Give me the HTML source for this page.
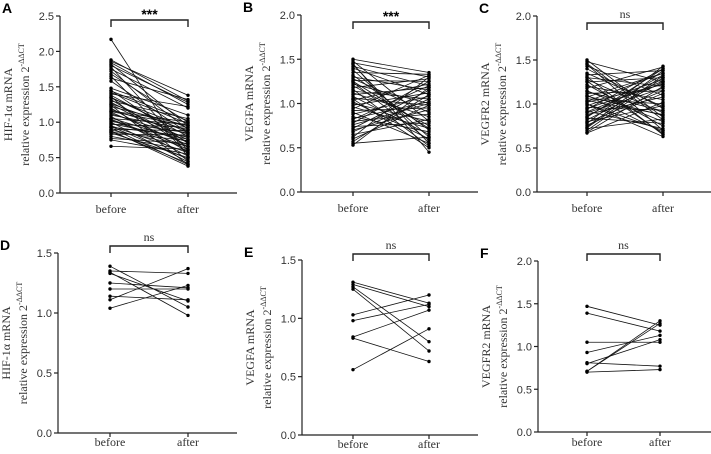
<!DOCTYPE html>
<html><head><meta charset="utf-8">
<style>
body{margin:0;background:#fff;}
svg{display:block;}
.tick{font-family:"Liberation Sans",sans-serif;font-size:11px;fill:#333;}
.ttl{font-family:"Liberation Serif",serif;font-size:12px;fill:#333;}
.xl{font-family:"Liberation Serif",serif;font-size:12px;fill:#333;}
.let{font-family:"Liberation Sans",sans-serif;font-size:14px;font-weight:bold;fill:#000;}
</style></head><body>
<svg id="fig" width="711" height="454" viewBox="0 0 711 454"></svg>
<script>
const categories=["before","after"];
const aBefore=[2.17,1.88,1.86,1.84,1.82,1.80,1.78,1.75,1.72,1.68,1.65,1.62,1.58,1.48,1.45,1.42,1.40,1.38,1.36,1.34,1.32,1.30,1.28,1.26,1.24,1.22,1.20,1.18,1.16,1.14,1.12,1.10,1.08,1.06,1.05,1.03,1.01,1.00,0.98,0.97,0.95,0.93,0.92,0.90,0.89,0.88,0.86,0.85,0.83,0.80,0.77,0.75,0.66,1.15,1.25,1.35,0.94,1.04,1.44,0.87];
const aAfter=[0.50,1.30,1.38,1.25,0.95,1.28,0.60,1.20,0.90,1.00,0.55,1.32,0.85,1.10,0.70,0.98,1.22,0.80,0.45,0.92,0.65,1.05,0.75,0.88,0.40,0.95,0.58,0.83,1.00,0.68,0.78,0.90,0.52,0.72,0.97,0.62,0.85,0.44,0.76,0.93,0.57,0.80,0.40,0.88,0.66,0.38,0.74,0.50,0.82,0.60,0.70,0.55,0.62,0.95,0.72,0.85,0.48,0.65,1.02,0.42];
const bBefore=[1.50,1.48,1.46,1.44,1.42,1.40,1.38,1.35,1.32,1.30,1.28,1.26,1.24,1.22,1.20,1.18,1.16,1.14,1.12,1.10,1.08,1.06,1.04,1.02,1.00,0.98,0.96,0.94,0.92,0.90,0.88,0.85,0.82,0.80,0.78,0.76,0.74,0.72,0.70,0.68,0.65,0.62,0.60,0.57,0.55,0.53,1.45,1.25,1.05,0.83];
const bAfter=[1.35,0.80,1.30,0.55,1.20,1.10,0.62,1.33,0.70,1.15,0.90,1.25,0.58,1.00,0.75,1.28,0.52,1.05,0.85,1.18,0.65,0.98,1.22,0.60,0.80,1.12,0.72,1.32,0.95,0.55,1.08,0.68,1.20,0.88,1.25,1.00,0.78,1.15,0.93,1.05,0.82,1.30,0.98,1.10,0.62,1.18,0.45,0.72,0.50,1.02];
const cBefore=[1.50,1.48,1.45,1.43,1.40,1.33,1.31,1.30,1.28,1.25,1.22,1.20,1.18,1.15,1.12,1.10,1.08,1.06,1.04,1.02,1.00,0.98,0.96,0.94,0.92,0.90,0.88,0.86,0.84,0.82,0.80,0.78,0.76,0.74,0.72,0.70,0.68,0.67,1.26,1.14,1.03,0.95,0.85,0.79,1.46,1.35,1.00,0.91,1.09,0.73];
const cAfter=[0.85,1.25,0.70,1.10,0.95,1.38,0.65,1.20,0.90,1.30,0.75,1.05,1.42,0.80,1.15,0.68,1.35,1.00,0.88,1.22,0.63,1.28,0.93,1.40,0.72,1.18,1.08,1.33,0.78,1.25,0.98,1.43,1.12,1.38,0.83,1.30,1.20,1.02,0.66,0.92,1.35,1.23,1.40,1.15,0.82,0.97,0.70,1.26,0.87,1.32];
const dBefore=[1.39,1.35,1.34,1.33,1.25,1.20,1.14,1.11,1.04];
const dAfter=[1.05,1.33,0.98,1.10,1.21,1.20,1.11,1.37,1.23];
const eBefore=[1.31,1.29,1.27,1.25,1.03,0.98,0.84,0.83,0.56];
const eAfter=[1.13,1.10,0.80,0.72,1.20,1.12,1.07,0.63,0.91];
const fBefore=[1.47,1.39,1.05,0.93,0.81,0.80,0.71,0.71,0.70];
const fAfter=[1.25,1.18,1.05,1.13,0.77,1.08,1.30,1.27,0.73];
const ticksA=["0.0","0.5","1.0","1.5","2.0","2.5"];
const ticks2=["0.0","0.5","1.0","1.5","2.0"];
const ticks15=["0.0","0.5","1.0","1.5"];
const sigA="***",sigB="***",sigC="ns",sigD="ns",sigE="ns",sigF="ns";

const NS="http://www.w3.org/2000/svg";
const svg=document.getElementById('fig');
function mk(tag,attrs,parent){const e=document.createElementNS(NS,tag);for(const k in attrs)e.setAttribute(k,attrs[k]);(parent||svg).appendChild(e);return e;}

const panels=[
 {id:'a',L:'A',gene:'HIF-1α mRNA',ax:60,top:16,bot:193,bx:111,fx:188,end:237,br:20,lo:20,ticks:ticksA,before:aBefore,after:aAfter,sig:sigA},
 {id:'b',L:'B',gene:'VEGFA mRNA',ax:301,top:15,bot:192,bx:353,fx:429,end:478,br:22,lo:20,ticks:ticks2,before:bBefore,after:bAfter,sig:sigB},
 {id:'c',L:'C',gene:'VEGFR2 mRNA',ax:537,top:16,bot:192,bx:587,fx:663,end:711,br:23,lo:20,ticks:ticks2,before:cBefore,after:cAfter,sig:sigC},
 {id:'d',L:'D',gene:'HIF-1α mRNA',ax:58,top:253,bot:433,bx:110,fx:188,end:237,br:246,lo:13,ticks:ticks15,before:dBefore,after:dAfter,sig:sigD},
 {id:'e',L:'E',gene:'VEGFA mRNA',ax:302,top:260,bot:435,bx:353,fx:429,end:478,br:254,lo:13,ticks:ticks15,before:eBefore,after:eAfter,sig:sigE},
 {id:'f',L:'F',gene:'VEGFR2 mRNA',ax:538,top:261,bot:432,bx:587,fx:660,end:711,br:254,lo:14,ticks:ticks2,before:fBefore,after:fAfter,sig:sigF}
];

panels.forEach(p=>{
  const g=mk('g',{});
  
  
  const tmax=parseFloat(p.ticks[p.ticks.length-1]);
  const y=v=>p.bot-(v/tmax)*(p.bot-p.top);
  const xs=[p.bx,p.fx];
  const letter=mk('text',{x:p.ax-58<0?1:p.ax-58,y:p.top-3,class:'let'},g);
  
  
  letter.textContent=p.L;
  const yax=mk('line',{x1:p.ax,y1:p.top,x2:p.ax,y2:p.bot,stroke:'#222','stroke-width':1.2},g);
  
  
  p.ticks.forEach(t=>{
    const yy=y(parseFloat(t));
    mk('line',{x1:p.ax-4,y1:yy,x2:p.ax,y2:yy,stroke:'#222','stroke-width':1.2},g);
    const tl=mk('text',{x:p.ax-6,y:yy+4,'text-anchor':'end',class:'tick'},g);
    
    
    tl.textContent=t;
  });
  const xax=mk('line',{x1:p.ax,y1:p.bot,x2:p.end,y2:p.bot,stroke:'#222','stroke-width':1.2},g);
  
  
  categories.forEach((c,i)=>{
    mk('line',{x1:xs[i],y1:p.bot,x2:xs[i],y2:p.bot+4,stroke:'#222','stroke-width':1.2},g);
    const xl=mk('text',{x:xs[i],y:p.bot+p.lo,'text-anchor':'middle',class:'xl'},g);
    
    
    xl.textContent=c;
  });
  const mid=(p.top+p.bot)/2;
  const t1=mk('text',{x:0,y:0,'text-anchor':'middle',class:'ttl',transform:`translate(${p.ax-48},${mid}) rotate(-90)`},g);
  
  
  t1.textContent=p.gene;
  const t2=mk('text',{x:0,y:0,'text-anchor':'middle',class:'ttl',transform:`translate(${p.ax-31},${mid}) rotate(-90)`},g);
  
  
  t2.innerHTML='relative expression 2<tspan dy="-5" font-size="8">-ΔΔCT</tspan>';
  p.before.forEach((b,i)=>{
    const a=p.after[i];
    const ln=mk('line',{x1:xs[0],y1:y(b),x2:xs[1],y2:y(a),stroke:'#111','stroke-width':0.8},g);
    
    
    [[xs[0],b],[xs[1],a]].forEach(q=>{
      const d=mk('circle',{cx:q[0],cy:y(q[1]),r:1.7,fill:'#000'},g);
      
      
    });
  });
  const br=mk('path',{d:`M${xs[0]},${p.br+7}V${p.br}H${xs[1]}V${p.br+7}`,fill:'none',stroke:'#222','stroke-width':1.4},g);
  
  
  const st=mk('text',{x:(xs[0]+xs[1])/2,y:p.br-(p.sig==='ns'?5:1),'text-anchor':'middle',class:p.sig==='ns'?'xl':'let','font-size':p.sig==='ns'?11:13},g);
  
  
  st.textContent=p.sig;
});
</script>
</body></html>
